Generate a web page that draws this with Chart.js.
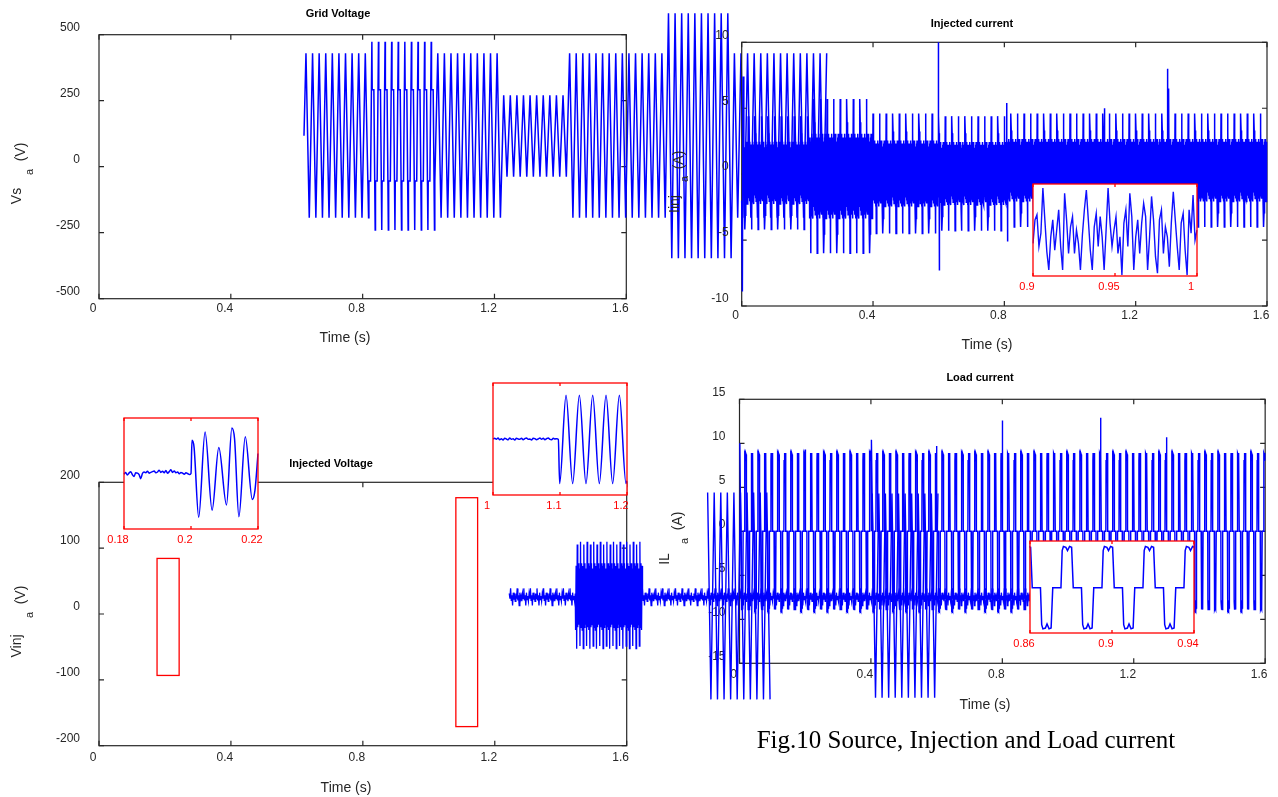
<!DOCTYPE html>
<html>
<head>
<meta charset="utf-8">
<title>Fig.10 Source, Injection and Load current</title>
<script src="https://cdn.jsdelivr.net/npm/chart.js@4.4.1/dist/chart.umd.min.js"></script>
<style>
  html, body { margin: 0; padding: 0; background: #fff; }
  #page { position: relative; width: 1278px; height: 797px; overflow: hidden; font-family: "Liberation Sans", Arial, sans-serif; }
  #page canvas { position: absolute; left: 0; top: 0; }
  .title { position: absolute; transform: translate(-50%, -50%); font-weight: bold; font-size: 11px; color: #000; white-space: nowrap; }
  .xlab { position: absolute; transform: translate(-50%, -50%); font-size: 14px; color: #262626; white-space: nowrap; }
  .ylab { position: absolute; transform: translate(-50%, -50%) rotate(-90deg); font-size: 14px; color: #262626; white-space: nowrap; line-height: 1; }
  .ylab.sub { font-size: 11px; }
  .caption { position: absolute; transform: translate(-50%, -50%); font-family: "Liberation Serif", "Times New Roman", serif; font-size: 25px; color: #000; white-space: nowrap; }
</style>
</head>
<body>
<div id="page">
  <canvas id="gridChart" width="1278" height="797"></canvas>
  <canvas id="injChart" width="1278" height="797"></canvas>
  <canvas id="vinjChart" width="1278" height="797"></canvas>
  <canvas id="loadChart" width="1278" height="797"></canvas>
  <canvas id="injZoom"></canvas>
  <canvas id="vinjZoomA"></canvas>
  <canvas id="vinjZoomB"></canvas>
  <canvas id="loadZoom"></canvas>

  <div class="title" style="left:338px; top:13px">Grid Voltage</div>
  <div class="title" style="left:972px; top:23px">Injected current</div>
  <div class="title" style="left:331px; top:463px">Injected Voltage</div>
  <div class="title" style="left:980px; top:377px">Load current</div>

  <div class="xlab" style="left:345px; top:337px">Time (s)</div>
  <div class="xlab" style="left:987px; top:344px">Time (s)</div>
  <div class="xlab" style="left:346px; top:787px">Time (s)</div>
  <div class="xlab" style="left:985px; top:704px">Time (s)</div>

  <div class="ylab" style="left:16px; top:196px">Vs</div>
  <div class="ylab sub" style="left:29px; top:172px">a</div>
  <div class="ylab" style="left:20px; top:152px">(V)</div>

  <div class="ylab" style="left:674px; top:204px">Iinj</div>
  <div class="ylab sub" style="left:684px; top:179px">a</div>
  <div class="ylab" style="left:678px; top:160px">(A)</div>

  <div class="ylab" style="left:16px; top:646px">Vinj</div>
  <div class="ylab sub" style="left:29px; top:615px">a</div>
  <div class="ylab" style="left:20px; top:595px">(V)</div>

  <div class="ylab" style="left:664px; top:559px">IL</div>
  <div class="ylab sub" style="left:684px; top:541px">a</div>
  <div class="ylab" style="left:677px; top:521px">(A)</div>

  <div class="caption" style="left:966px; top:740px">Fig.10 Source, Injection and Load current</div>
</div>
<script>
// supply period, 50 Hz
const PERIOD = 0.02;

// one-cycle shapes (phase 0..1, level -1..1)
const triPhase = [0, 0.5];
const triLevel = [1, -1];
const stepPhase = [0, 0.05, 0.3, 0.5, 0.55, 0.8];
const stepLevel = [1, 0.49, 0.49, -1, -0.48, -0.48];
const noisePhase = [0, 0.05, 0.1, 0.15, 0.2, 0.25, 0.3, 0.35, 0.4, 0.45, 0.5, 0.55, 0.6, 0.65, 0.7, 0.75, 0.8, 0.85, 0.9, 0.95];
const noiseLevel = [1.0, 0.7, -0.45, 0.5, -0.5, 0.55, -0.4, 0.5, -0.55, 0.45, -1.0, -0.75, 0.5, -0.45, 0.55, -0.5, 0.45, -0.55, 0.5, -0.4];
const ripplePhase = [0, 0.1, 0.2, 0.3, 0.4, 0.5, 0.6, 0.7, 0.8, 0.9];
const rippleLevel = [0.1, -0.5, 0.4, -0.2, 1.0, -0.4, 0.2, -1.0, 0.5, -0.3];
const burstPhase = [0, 0.083, 0.167, 0.25, 0.333, 0.417, 0.5, 0.583, 0.667, 0.75, 0.833, 0.917];
const burstLevel = [1.0, -0.6, 0.6, -0.65, 0.55, -1.0, 0.95, -0.6, 0.6, -0.55, 0.5, -0.95];
const loadPhase = [0, 0.03, 0.06, 0.12, 0.16, 0.21, 0.26, 0.3, 0.5, 0.53, 0.56, 0.62, 0.66, 0.71, 0.76, 0.8];
const loadLevel = [0, 0.9, 1, 0.98, 0.9, 1, 0.98, 0, 0, -0.9, -1, -0.98, -0.88, -1, -0.98, 0];

// ---- Grid voltage (top left) ----
const timeTicks = [0, 0.4, 0.8, 1.2, 1.6];
const gridTicks = [-500, -250, 0, 250, 500];
const gridStart = [0.622, 0.819, 1.023, 1.220, 1.420, 1.727, 1.921];
const gridEnd   = [0.819, 1.023, 1.220, 1.420, 1.727, 1.921, 2.212];
const gridHigh  = [430, 473, 430, 271, 430, 581, 430];
const gridLow   = [-193, -240, -193, -38, -193, -347, -193];
const gridShape = ['tri', 'step', 'tri', 'tri', 'tri', 'tri', 'tri'];
const gridFirstT = 0.622, gridFirstV = 117;

// ---- Injected current (top right) ----
const injTicks = [-10, -5, 0, 5, 10];
const injStart = [0.006, 0.207, 0.398, 0.600, 0.810];
const injEnd   = [0.207, 0.398, 0.600, 0.810, 1.600];
const injHigh  = [4.4, 5.7, 4.6, 4.4, 4.6];
const injLow   = [-4.2, -6.0, -4.5, -4.3, -4.0];
const injSpikeT = [0.000, 0.002, 0.004, 0.599, 0.601, 0.603, 0.807, 0.809, 1.104, 1.106, 1.297, 1.299, 1.301];
const injSpikeV = [-2.0, -8.9, 7.4, 10.0, -7.3, 1.0, 5.4, -5.1, 5.0, -0.6, 8.0, 0.0, 6.5];
// zoom 0.9 - 1.0 s
const injZoomTicks = [0.9, 0.95, 1];
const injZoomV = [-2.9, 2.2, 3.3, -3.6, -0.7, 9.1, 2.2, -4.7, -8.7, -1.5,
  2.2, -4.4, 0, 4.4, -3.6, -8.7, 8.0, 2.2, -5.1, 0.7,
  2.9, -5.1, 0, -2.9, -8.7, -1.1, 4.4, 8.7, 2.2, -4.4,
  -8.7, 0.7, 3.6, -3.6, 2.9, -1.5, -8.7, 0, 9.1, 1.5,
  -3.6, 0, 2.9, -5.1, -1.5, -9.8, 1.5, 4.4, -3.6, 8.0,
  2.9, -8.7, -1.5, 2.2, -5.1, 1.5, 5.8, 2.9, -8.7, -1.5,
  7.3, 2.2, -5.8, -9.4, 2.2, 4.4, -5.1, 0.7, -1.5, -8.0,
  1.5, 8.3, 2.2, -3.6, -8.7, 1.5, 3.6, -4.4, -9.8, 4.4,
  -0.7, 7.6, -2.2, 0];

// ---- Injected voltage (bottom left) ----
const vinjTicks = [-200, -100, 0, 100, 200];
const vinjStart = [1.244, 1.445, 1.647];
const vinjEnd   = [1.445, 1.647, 2.853];
const vinjHigh  = [38.9, 109.6, 38.9];
const vinjLow   = [12.9, -52.7, 12.9];
const vinjShape = ['ripple', 'burst', 'ripple'];
// red zoom markers
const markT0 = [0.176, 1.082];
const markT1 = [0.243, 1.148];
const markHigh = [84.4, 176.6];
const markLow = [-93.3, -171];
// zoom 0.18 - 0.22 s
const vinjATicks = [0.18, 0.2, 0.22];
const vinjANoise = [-2, 3, -4, 1, 5, -3, -8, 2, 1, -3, -14, 0, 4, 2, 6, 1, 3, 5, 7, 2,
  4, 9, 3, 6, 2, 8, 1, 5, 10, 3, 7, 2, 4, -1, 3, 1, -2, 2, 0, -3, 0];
const vinjAT = [0.2003, 0.2009, 0.2023, 0.2042, 0.2063, 0.2083, 0.2106, 0.2122, 0.2130, 0.2143, 0.2162, 0.2183, 0.2191, 0.2200];
const vinjAV = [90, 72, -118, 112, -99, 70, -85, 123, 94, -117, 99, -70, -45, 54];
// zoom 1.0 - 1.2 s
const vinjBTicks = [1, 1.1, 1.2];
const vinjBNoise = [0, 2, -1, 3, -2, 1, -3, 2, 0, -2, 3, -1, 1, -3, 2, 0, -1, 2, -2, 1,
  3, -1, 0, -3, 2, 1, -2, 0, 3, -1, 2, -2, 1, 3, -1, -2, 2, 0, 1, -1];
const vinjBT = [1.0995, 1.109, 1.1189, 1.1289, 1.1388, 1.1488, 1.1587, 1.1687, 1.1786, 1.1886, 1.1985, 1.2];
const vinjBV = [-119, 117, -119, 117, -119, 117, -119, 117, -119, 117, -119, -112];

// ---- Load current (bottom right) ----
const loadTicks = [-15, -10, -5, 0, 5, 10, 15];
const loadStart = [0.006], loadEnd = [1.6], loadHigh = [8.9], loadLow = [-8.9];
const loadOrigin = 0.0151;
const loadSpikeT = [0.001, 0.2, 0.402, 0.6, 0.8, 1.1, 1.3];
const loadSpikeV = [10, 9.3, 10.4, 9.7, 12.6, 12.9, 10.7];
const offStart = [-0.097, 0.404], offEnd = [0.097, 0.608];
const offHigh = [4.4, 4.3], offLow = [-19.1, -18.9];
// zoom 0.86 - 0.94 s
const loadZoomTicks = [0.86, 0.9, 0.94];
const loadZoomHigh = 8.8, loadZoomLow = -9.1;

// ---------------------------------------------------------------
const shapes = {
  tri: [triPhase, triLevel], step: [stepPhase, stepLevel],
  ripple: [ripplePhase, rippleLevel], burst: [burstPhase, burstLevel]
};

// repeat a one-cycle shape over each segment, scaled to that segment's high/low
function tile(starts, ends, highs, lows, phases, levels, origin) {
  const pts = [];
  starts.forEach((t0, s) => {
    const t1 = ends[s], hi = highs[s], lo = lows[s];
    const ph = phases[s], lv = levels[s];
    for (let c = Math.floor((t0 - origin) / PERIOD); origin + c * PERIOD < t1; c++) {
      ph.forEach((p, i) => {
        const t = origin + (c + p) * PERIOD;
        if (t >= t0 && t < t1) pts.push({ x: t, y: lo + (lv[i] + 1) / 2 * (hi - lo) });
      });
    }
  });
  return pts;
}

function withSpikes(pts, ts, vs) {
  return pts.concat(ts.map((t, i) => ({ x: t, y: vs[i] }))).sort((a, b) => a.x - b.x);
}

function drawFrame(chart, opts) {
  const { ctx, chartArea: a, scales: { x, y } } = chart;
  ctx.save();
  ctx.strokeStyle = opts.color;
  ctx.lineWidth = opts.width;
  ctx.strokeRect(a.left, a.top, a.right - a.left, a.bottom - a.top);
  ctx.beginPath();
  x.ticks.forEach(t => {
    const px = x.getPixelForValue(t.value);
    ctx.moveTo(px, a.bottom); ctx.lineTo(px, a.bottom - opts.tick);
    ctx.moveTo(px, a.top); ctx.lineTo(px, a.top + opts.tick);
  });
  if (opts.yTicks) {
    y.ticks.forEach(t => {
      const py = y.getPixelForValue(t.value);
      ctx.moveTo(a.left, py); ctx.lineTo(a.left + opts.tick, py);
      ctx.moveTo(a.right, py); ctx.lineTo(a.right - opts.tick, py);
    });
  }
  ctx.stroke();
  ctx.restore();
}

const framePlugin = {
  id: 'frame',
  beforeDatasetsDraw(chart, args, opts) {
    const { ctx, chartArea: a } = chart;
    if (opts.fill) {
      ctx.save();
      ctx.fillStyle = opts.fill;
      ctx.fillRect(a.left, a.top, a.right - a.left, a.bottom - a.top);
      ctx.restore();
    }
    if (!opts.onTop) drawFrame(chart, opts);
  },
  afterDatasetsDraw(chart, args, opts) {
    if (opts.onTop) drawFrame(chart, opts);
    if (opts.marks) {
      const { ctx, scales: { x, y } } = chart;
      const m = opts.marks;
      ctx.save();
      ctx.strokeStyle = '#ff0000';
      ctx.lineWidth = 1.3;
      m.t0.forEach((t0, i) => {
        const l = x.getPixelForValue(t0), r = x.getPixelForValue(m.t1[i]);
        const top = y.getPixelForValue(m.hi[i]), bot = y.getPixelForValue(m.lo[i]);
        ctx.strokeRect(l, top, r - l, bot - top);
      });
      ctx.restore();
    }
  }
};

Chart.defaults.font.family = "'Liberation Sans', Arial, Helvetica, sans-serif";
Chart.defaults.color = '#262626';

function axis(values, lo, hi, extra) {
  return Object.assign({
    type: 'linear', bounds: 'data',
    afterDataLimits: s => { s.min = lo; s.max = hi; },
    afterBuildTicks: s => { s.ticks = values.map(v => ({ value: v })); },
    grid: { display: false, drawTicks: false },
    border: { display: false }
  }, extra);
}

function line(data, extra) {
  return Object.assign({ data, borderColor: '#0000ff', borderWidth: 1.3, pointRadius: 0, clip: false, fill: false }, extra);
}

function mainPanel(id, box, yTicks, datasets, pad, marks) {
  const [L, T, R, B] = box;
  return new Chart(document.getElementById(id), {
    type: 'line',
    data: { datasets },
    options: {
      responsive: false, animation: false, devicePixelRatio: 1, events: [],
      layout: { padding: { left: L - 60, top: T, right: 1278 - R, bottom: 797 - B - 30 } },
      plugins: {
        legend: { display: false }, tooltip: { enabled: false },
        frame: { color: '#262626', width: 1.2, tick: 5, yTicks: true, marks }
      },
      scales: {
        x: axis(timeTicks, timeTicks[0], timeTicks[timeTicks.length - 1], {
          afterFit: s => { s.height = 30; },
          ticks: { padding: pad[0], labelOffset: -6, autoSkip: false, maxRotation: 0, font: { size: 12 }, callback: v => String(v) }
        }),
        y: axis(yTicks, yTicks[0], yTicks[yTicks.length - 1], {
          afterFit: s => { s.width = 60; },
          ticks: { padding: pad[1], labelOffset: -7, autoSkip: false, font: { size: 12 }, callback: v => String(v) }
        })
      }
    },
    plugins: [framePlugin]
  });
}

function zoomPanel(id, box, xTicks, yRange, datasets) {
  const [L, T, R, B] = box;
  const cv = document.getElementById(id);
  cv.width = Math.round(R - L + 50);
  cv.height = Math.round(B - T + 28);
  cv.style.left = Math.round(L - 25) + 'px';
  cv.style.top = Math.round(T - 6) + 'px';
  return new Chart(cv, {
    type: 'line',
    data: { datasets },
    options: {
      responsive: false, animation: false, devicePixelRatio: 1, events: [],
      layout: { padding: { left: 25, right: 25, top: 6, bottom: 0 } },
      plugins: {
        legend: { display: false }, tooltip: { enabled: false },
        frame: { color: '#ff0000', width: 1.3, tick: 3, fill: '#ffffff', onTop: true, yTicks: false }
      },
      scales: {
        x: axis(xTicks, xTicks[0], xTicks[xTicks.length - 1], {
          afterFit: s => { s.height = 22; },
          ticks: { color: '#ff0000', padding: 4, labelOffset: -6, autoSkip: false, maxRotation: 0, font: { size: 11 }, callback: v => String(v) }
        }),
        y: axis([], yRange[0], yRange[1], { display: false })
      }
    },
    plugins: [framePlugin]
  });
}

// ---- build series ----
const gridPts = [{ x: gridFirstT, y: gridFirstV }].concat(
  tile(gridStart, gridEnd, gridHigh, gridLow,
    gridShape.map(n => shapes[n][0]), gridShape.map(n => shapes[n][1]), 0.628));

const injPts = withSpikes(
  tile(injStart, injEnd, injHigh, injLow, injStart.map(() => noisePhase), injStart.map(() => noiseLevel), 0),
  injSpikeT, injSpikeV);

const vinjPts = tile(vinjStart, vinjEnd, vinjHigh, vinjLow,
  vinjShape.map(n => shapes[n][0]), vinjShape.map(n => shapes[n][1]), 0);

const loadPts = withSpikes(
  tile(loadStart, loadEnd, loadHigh, loadLow, [loadPhase], [loadLevel], loadOrigin),
  loadSpikeT, loadSpikeV);
const offSets = offStart.map((t0, i) =>
  tile([t0], [offEnd[i]], [offHigh[i]], [offLow[i]], [triPhase], [triLevel], t0));

mainPanel('gridChart', [99, 34.7, 626.3, 298.7], gridTicks, [line(gridPts, { borderWidth: 1.5 })], [3, 19]);
mainPanel('injChart', [741.7, 42.3, 1267, 306], injTicks, [line(injPts, { borderWidth: 1.5 })], [2, 13]);
mainPanel('vinjChart', [99, 482.3, 626.7, 745.7], vinjTicks, [line(vinjPts)], [5, 19],
  { t0: markT0, t1: markT1, hi: markHigh, lo: markLow });
mainPanel('loadChart', [739.5, 399.3, 1267, 663.3], loadTicks,
  [line(loadPts, { borderWidth: 1.4 })].concat(offSets.map(p => line(p, { borderWidth: 1.4 }))), [4.5, 14]);

// ---- zoom insets ----
const injZoomStep = (injZoomTicks[2] - injZoomTicks[0]) / (injZoomV.length - 1);
zoomPanel('injZoom', [1032.7, 184, 1196.7, 276], injZoomTicks, [-10, 10],
  [line(injZoomV.map((v, i) => ({ x: injZoomTicks[0] + i * injZoomStep, y: v })), { borderWidth: 1.4, borderColor: '#1010ff', clip: undefined })]);

const vinjAPts = vinjANoise.map((v, i) => ({ x: 0.18 + i * 0.0005, y: v }))
  .concat(vinjAT.map((t, i) => ({ x: t, y: vinjAV[i] })));
zoomPanel('vinjZoomA', [124.3, 417.7, 258.3, 529], vinjATicks, [-150, 150],
  [line(vinjAPts, { borderWidth: 1.5, cubicInterpolationMode: 'monotone', clip: undefined })]);

const vinjBPts = vinjBNoise.map((v, i) => ({ x: 1.0 + i * 0.0025, y: v }))
  .concat(vinjBT.map((t, i) => ({ x: t, y: vinjBV[i] })));
zoomPanel('vinjZoomB', [492.7, 383.3, 626.7, 495], vinjBTicks, [-150, 150],
  [line(vinjBPts, { borderWidth: 1.5, cubicInterpolationMode: 'monotone', clip: undefined })]);

const loadZoomPts = tile([0.855], [0.946], [loadZoomHigh], [loadZoomLow], [loadPhase], [loadLevel], loadOrigin);
zoomPanel('loadZoom', [1030, 540.7, 1194.3, 632.3], loadZoomTicks, [-10, 10],
  [line(loadZoomPts, { borderWidth: 1.5, clip: undefined })]);
</script>
</body>
</html>
